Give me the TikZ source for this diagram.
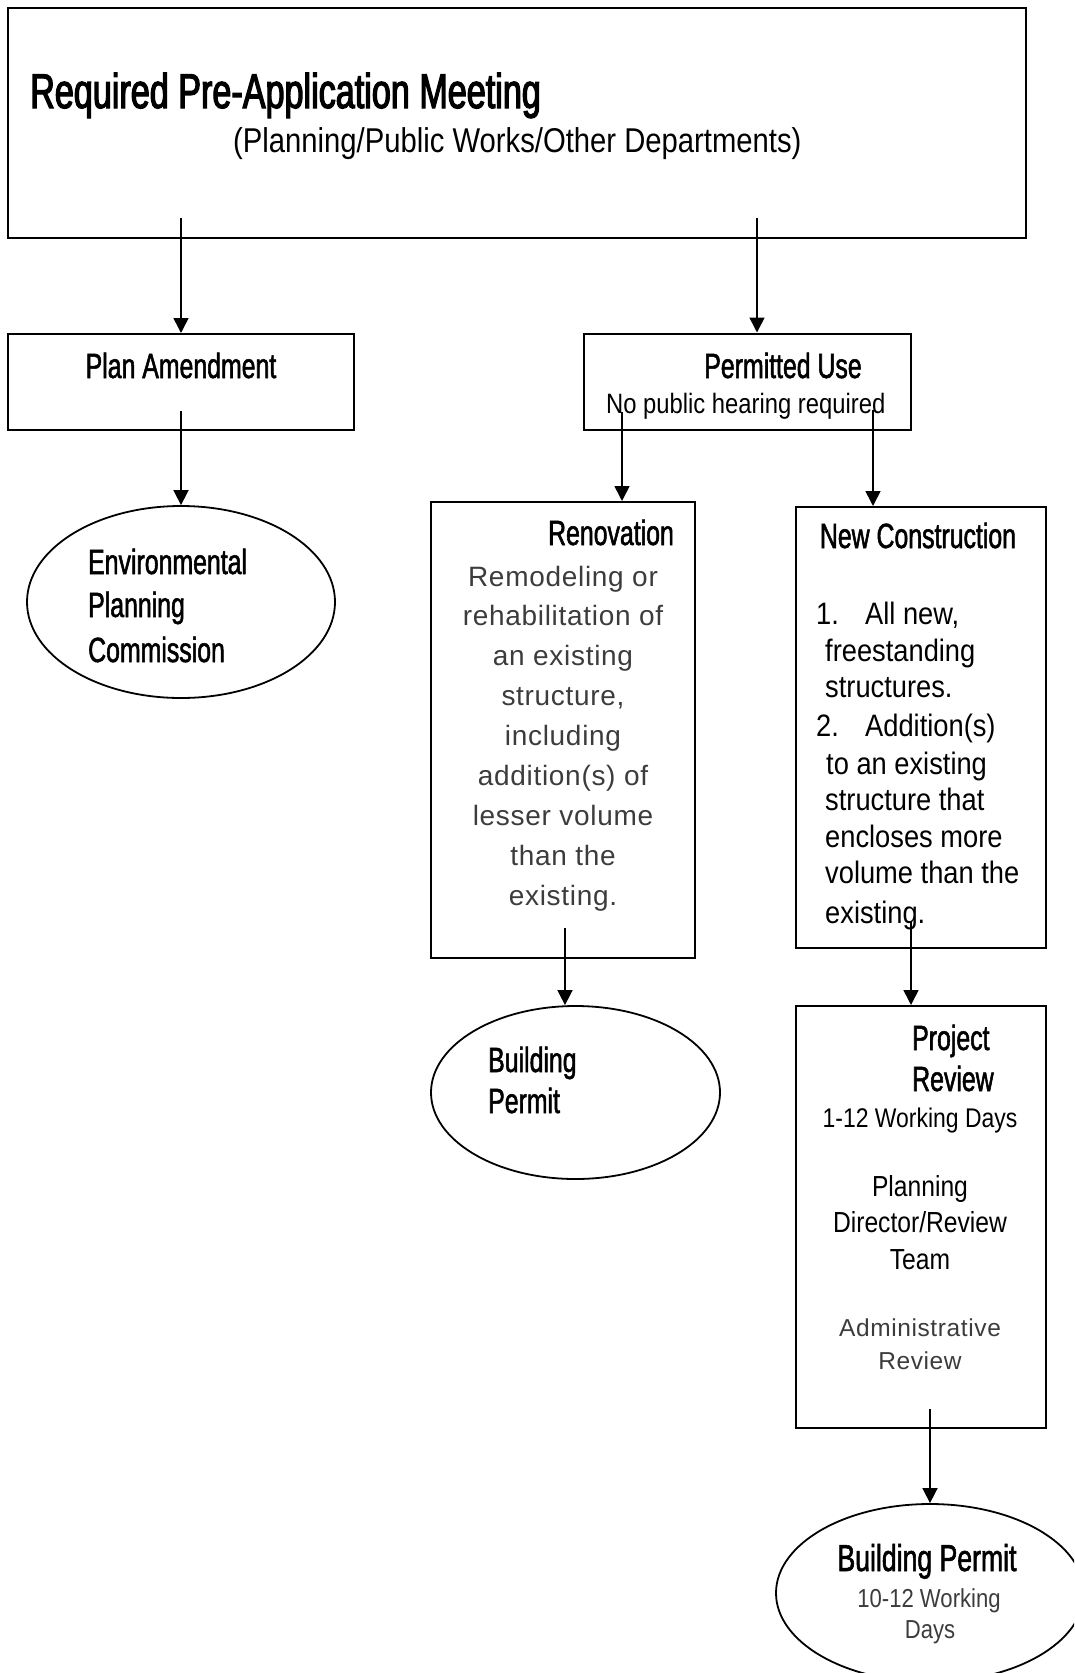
\documentclass[tikz,border=0pt]{standalone}
\usepackage{fontspec}
\setmainfont{Liberation Sans}
\newfontfamily\ttlfont[FakeStretch=0.70,FakeBold=2.5]{Liberation Sans}
\newfontfamily\hdfont[FakeStretch=0.71,FakeBold=1.5]{Liberation Sans}
\newfontfamily\cdfont[FakeStretch=0.85]{Liberation Sans}
\newfontfamily\lsfont[FakeStretch=0.88]{Liberation Sans}
\newfontfamily\ltfont[LetterSpace=2.5]{Liberation Sans}
\usetikzlibrary{arrows.meta,shapes.geometric}
\definecolor{lightink}{HTML}{3C3C3C}
\begin{document}
\begin{tikzpicture}[x=1pt,y=-1pt,
  box/.style={draw, line width=2pt, rectangle, inner sep=0pt},
  oval/.style={draw, line width=1.8pt, ellipse, inner sep=0pt},
  arr/.style={line width=1.6pt, -{Triangle[length=15pt,width=15pt]}},
  txt/.style={inner sep=0pt, anchor=base},
  ttl/.style={txt, font=\ttlfont\fontsize{48.8}{56}\selectfont},
  hd/.style={txt, font=\hdfont\fontsize{35}{42}\selectfont},
  cd/.style={txt, font=\cdfont\fontsize{29}{35}\selectfont},
  ls/.style={txt, font=\lsfont\fontsize{31}{37}\selectfont},
  lt/.style={txt, text=lightink, font=\ltfont\fontsize{28}{40}\selectfont},
  ltc/.style={txt, text=lightink, font=\cdfont\fontsize{26}{32}\selectfont},
]
\useasboundingbox (0,0) rectangle (1074,1673);
\clip (0,0) rectangle (1074,1673);

% boxes and ovals
\node[box, minimum width=1018pt, minimum height=230pt] (top) at (517,122.5) {};
\node[box, minimum width=346pt, minimum height=96pt] (plan) at (181,382) {};
\node[box, minimum width=327pt, minimum height=96pt] (perm) at (747.5,381.5) {};
\node[oval, minimum width=308pt, minimum height=192pt] (env) at (181,602) {};
\node[box, minimum width=264pt, minimum height=456pt] (reno) at (563,730) {};
\node[box, minimum width=250pt, minimum height=441pt] (nc) at (921,727.5) {};
\node[oval, minimum width=289pt, minimum height=173pt] (bp1) at (575.5,1092.5) {};
\node[box, minimum width=250pt, minimum height=422pt] (pr) at (920.5,1217) {};
\node[oval, minimum width=308pt, minimum height=178pt] (bp2) at (930,1593) {};

% texts
\node[ttl, anchor=base west] (ttlT) at (30,108) {Required Pre-Application Meeting};
\node[cd, anchor=base west, font=\cdfont\fontsize{34.4}{40}\selectfont] (subT) at (233,152) {(Planning/Public Works/Other Departments)};

\node[hd] (planT) at (181,378) {Plan Amendment};
\node[hd] (permT) at (783,378) {Permitted Use};
\node[cd, anchor=base west, font=\cdfont\fontsize{28}{34}\selectfont] (permS) at (606,413) {No public hearing required};

\node[hd, anchor=base west] (env1) at (88,574) {Environmental};
\node[hd, anchor=base west] (env2) at (88,617) {Planning};
\node[hd, anchor=base west] (env3) at (88,662) {Commission};

\node[hd] (renoT) at (611,545) {Renovation};
\foreach \t [count=\i from 0] in {Remodeling or, rehabilitation of, an existing, {structure,}, including, addition(s) of, lesser volume, than the, existing.}
  \node[lt] (reno\i) at (563,{586+39.9*\i}) {\t};

\node[hd] (ncT) at (918,548) {New Construction};
\node[ls, anchor=base west] (ncA) at (816,624) {1.};
\node[ls, anchor=base west] (ncB) at (865,624) {All new,};
\node[ls, anchor=base west] (ncC) at (825,661) {freestanding};
\node[ls, anchor=base west] (ncD) at (825,697) {structures.};
\node[ls, anchor=base west] (ncE) at (816,736) {2.};
\node[ls, anchor=base west] (ncF) at (865,736) {Addition(s)};
\node[ls, anchor=base west] (ncG) at (826,774) {to an existing};
\node[ls, anchor=base west] (ncH) at (825,810) {structure that};
\node[ls, anchor=base west] (ncI) at (825,847) {encloses more};
\node[ls, anchor=base west] (ncJ) at (825,883) {volume than the};
\node[ls, anchor=base west] (ncK) at (825,923) {existing.};

\node[hd, anchor=base west] (bp1a) at (488,1072) {Building};
\node[hd, anchor=base west] (bp1b) at (488,1113) {Permit};

\node[hd, anchor=base west] (prA) at (912,1050) {Project};
\node[hd, anchor=base west] (prB) at (912,1091) {Review};
\node[cd, font=\cdfont\fontsize{27}{33}\selectfont] (prC) at (920,1127) {1-12 Working Days};
\node[cd] (prD) at (920,1196) {Planning};
\node[cd] (prE) at (920,1232) {Director/Review};
\node[cd] (prF) at (920,1269) {Team};
\node[ltc, font=\ltfont\fontsize{24.5}{30}\selectfont] (prG) at (920,1336) {Administrative};
\node[ltc, font=\ltfont\fontsize{24.5}{30}\selectfont] (prH) at (920,1369) {Review};

\node[hd, font=\hdfont\fontsize{37.5}{44}\selectfont] (bp2a) at (927,1571) {Building Permit};
\node[ltc] (bp2b) at (929,1607) {10-12 Working};
\node[ltc] (bp2c) at (930,1638) {Days};

% connectors
\coordinate (s1) at (181,218);
\coordinate (s2) at (757,218);
\coordinate (s3) at (181,411);
\coordinate (s4) at (622,412);
\coordinate (s5) at (873,410);
\coordinate (s6) at (565,928);
\coordinate (s7) at (911,922);
\coordinate (s8) at (930,1409);
\draw[arr] (s1) -- (s1 |- plan.north);
\draw[arr] (s2) -- (s2 |- perm.north);
\draw[arr] (s3) -- (env.north);
\draw[arr] (s4) -- (s4 |- reno.north);
\draw[arr] (s5) -- (s5 |- nc.north);
\draw[arr] (s6) -- (s6 |- bp1.north);
\draw[arr] (s7) -- (s7 |- pr.north);
\draw[arr] (s8) -- (bp2.north);
\end{tikzpicture}
\end{document}
